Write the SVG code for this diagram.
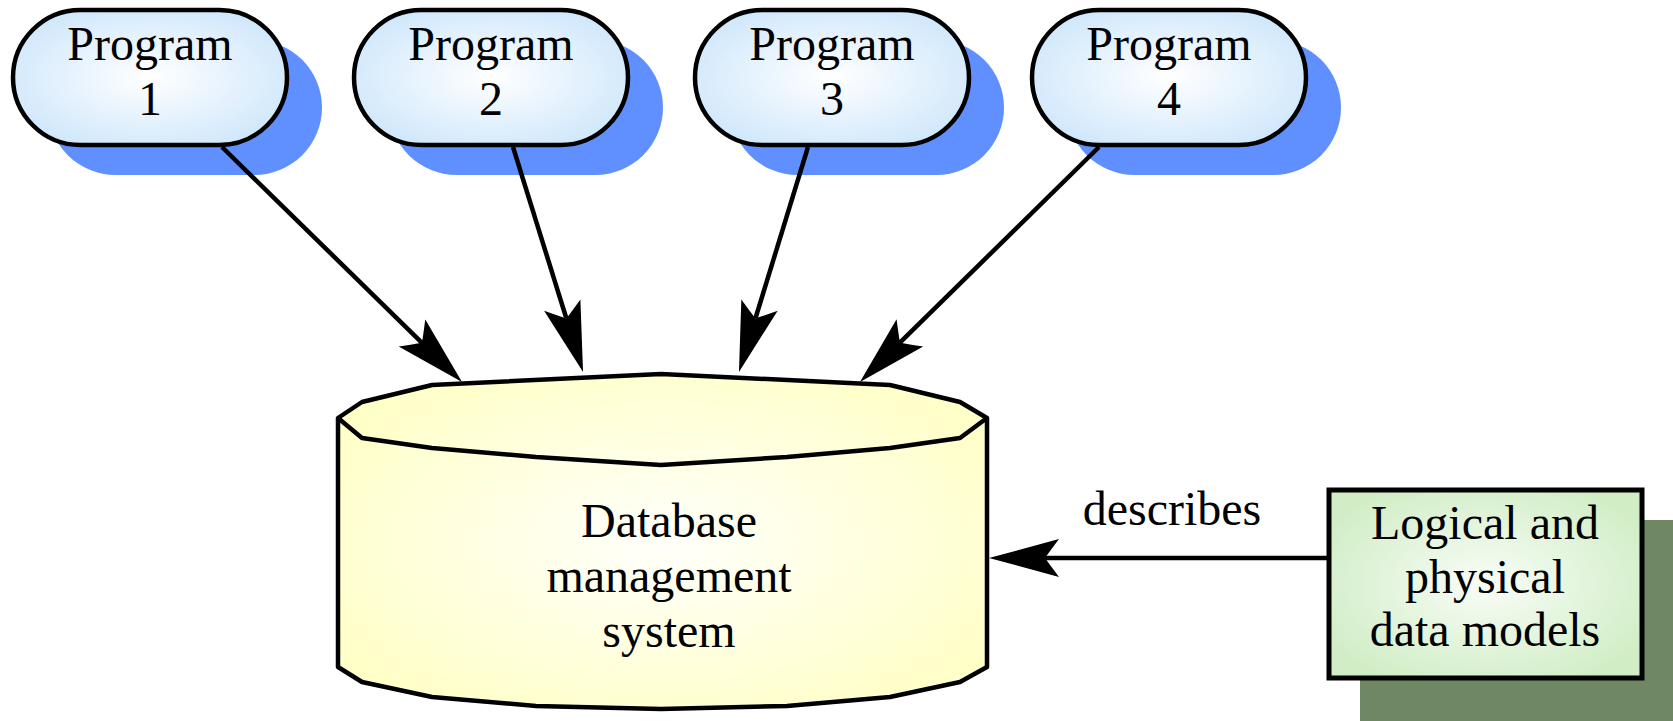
<svg xmlns="http://www.w3.org/2000/svg" width="1673" height="721" viewBox="0 0 1673 721">
  <defs>
    <radialGradient id="progFill" cx="50%" cy="50%" r="60%">
      <stop offset="0" stop-color="#ffffff"/>
      <stop offset="1" stop-color="#cde6fb"/>
    </radialGradient>
    <radialGradient id="dbFill" cx="50%" cy="50%" r="60%">
      <stop offset="0" stop-color="#fffffb"/>
      <stop offset="1" stop-color="#ffffc8"/>
    </radialGradient>
    <radialGradient id="modelFill" cx="50%" cy="50%" r="60%">
      <stop offset="0" stop-color="#f9fdf7"/>
      <stop offset="1" stop-color="#d0edc5"/>
    </radialGradient>
    <marker id="head" markerUnits="userSpaceOnUse" markerWidth="80" markerHeight="50" viewBox="-20 -25 80 50" refX="0" refY="0" orient="auto" overflow="visible">
      <path d="M56,0 L-14,-19 Q-5,-7 0,0 Q-5,7 -14,19 Z" fill="#000"/>
    </marker>
    <style>
      .prog-shadow { fill: #6090ff; }
      .prog { fill: url(#progFill); stroke: #000; stroke-width: 4.5; }
      .label { font-family: "Liberation Serif", "Times New Roman", serif; font-size: 48px; fill: #000; text-anchor: middle; }
      .edge { stroke: #000; stroke-width: 4.5; fill: none; marker-end: url(#head); }
    </style>
  </defs>

  <rect width="1673" height="721" fill="#ffffff"/>

  <!-- application programs -->
  <g id="program1">
    <rect class="prog-shadow" x="48" y="40" width="274" height="135" rx="67.5"/>
    <rect class="prog" x="13" y="10" width="274" height="135" rx="67.5"/>
    <text class="label" x="150" y="60">Program</text>
    <text class="label" x="150" y="115">1</text>
  </g>
  <g id="program2">
    <rect class="prog-shadow" x="389" y="40" width="274" height="135" rx="67.5"/>
    <rect class="prog" x="354" y="10" width="274" height="135" rx="67.5"/>
    <text class="label" x="491" y="60">Program</text>
    <text class="label" x="491" y="115">2</text>
  </g>
  <g id="program3">
    <rect class="prog-shadow" x="730" y="40" width="274" height="135" rx="67.5"/>
    <rect class="prog" x="695" y="10" width="274" height="135" rx="67.5"/>
    <text class="label" x="832" y="60">Program</text>
    <text class="label" x="832" y="115">3</text>
  </g>
  <g id="program4">
    <rect class="prog-shadow" x="1067" y="40" width="274" height="135" rx="67.5"/>
    <rect class="prog" x="1032" y="10" width="274" height="135" rx="67.5"/>
    <text class="label" x="1169" y="60">Program</text>
    <text class="label" x="1169" y="115">4</text>
  </g>

  <!-- database management system cylinder -->
  <g id="dbms">
    <path d="M338,418 L362,402 L432,385 L661,374 L890,385 L960,402 L987,418 L987,667 L960,682 L890,697 L787,706 L661,709 L536,706 L432,697 L362,682 L338,667 Z" fill="url(#dbFill)" stroke="#000" stroke-width="4.5" stroke-linejoin="round"/>
    <path d="M338,418 L362,438 L432,448 L536,457 L661,465 L787,457 L890,448 L960,438 L987,418" fill="none" stroke="#000" stroke-width="4.5" stroke-linejoin="round"/>
    <text class="label" x="669" y="537">Database</text>
    <text class="label" x="669" y="592">management</text>
    <text class="label" x="669" y="647">system</text>
  </g>

  <!-- data models box -->
  <g id="models">
    <rect x="1360" y="520" width="320" height="210" fill="#6f8763"/>
    <rect x="1329" y="490" width="313" height="188" fill="url(#modelFill)" stroke="#000" stroke-width="5"/>
    <text class="label" x="1485" y="539">Logical and</text>
    <text class="label" x="1485" y="593">physical</text>
    <text class="label" x="1485" y="646">data models</text>
  </g>

  <!-- connectors -->
  <g id="connectors">
    <line class="edge" x1="222" y1="147" x2="422" y2="342.8"/>
    <line class="edge" x1="513" y1="147" x2="566.4" y2="318.5"/>
    <line class="edge" x1="808" y1="147" x2="755.4" y2="318.5"/>
    <line class="edge" x1="1099" y1="147" x2="899.9" y2="342.7"/>
    <line class="edge" x1="1329" y1="558" x2="1045" y2="558"/>
    <text class="label" x="1172" y="525">describes</text>
  </g>
</svg>
